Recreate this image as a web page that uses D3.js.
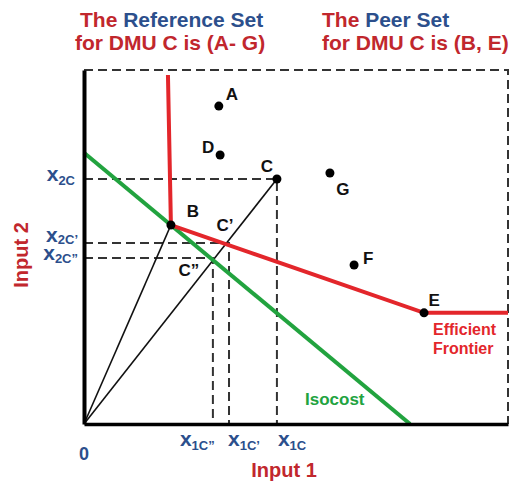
<!DOCTYPE html>
<html>
<head>
<meta charset="utf-8">
<script src="https://cdn.jsdelivr.net/npm/d3@7"></script>
<style>
body { margin: 0; background: #fff; }
text { font-family: "Liberation Sans", Arial, sans-serif; font-weight: bold; }
</style>
</head>
<body>
<div id="chart"></div>
<script>
var width = 514;
var height = 484;
var margin = {top: 70, right: 6, bottom: 60, left: 84};
var w = width - margin.left - margin.right;
var h = height - margin.top - margin.bottom;

// DMUs: input 1, input 2
var names = ['A', 'D', 'C', 'G', 'B', 'F', 'E'];
var input1 = [3.18, 3.21, 4.55, 5.8, 2.05, 6.37, 8.02];
var input2 = [8.98, 7.6, 6.92, 7.09, 5.62, 4.49, 3.14];

// projections of C
var projNames = ['C’', 'C”'];
var proj1 = [3.42, 3.04];
var proj2 = [5.11, 4.69];

// frontier and isocost
var frontier1 = [1.98, 2.05, 8.02, 10];
var frontier2 = [9.86, 5.62, 3.14, 3.14];
var isocost1 = [0, 7.69];
var isocost2 = [7.66, 0];

var red = '#e3262b', darkRed = '#c1272d', blue = '#2c4f8c', green = '#22a33f';

var x = d3.scaleLinear().domain([0, 10]).range([0, w]);
var y = d3.scaleLinear().domain([0, 10]).range([h, 0]);

var svg = d3.select('#chart').append('svg')
  .attr('width', width)
  .attr('height', height)
  .append('g')
  .attr('transform', 'translate(' + margin.left + ',' + margin.top + ')');

var pt = {};
names.forEach(function(n, i) { pt[n] = [input1[i], input2[i]]; });
projNames.forEach(function(n, i) { pt[n] = [proj1[i], proj2[i]]; });

var line = d3.line().x(function(d) { return x(d[0]); }).y(function(d) { return y(d[1]); });

function dashed(pts) {
  svg.append('path').attr('d', line(pts))
    .attr('fill', 'none').attr('stroke', '#333').attr('stroke-width', 2)
    .attr('stroke-dasharray', '9,5');
}

// box
dashed([[0, 10], [10, 10], [10, 0]]);

// guide lines for C, C', C''
['C', 'C’', 'C”'].forEach(function(n) {
  dashed([[0, pt[n][1]], [pt[n][0], pt[n][1]], [pt[n][0], 0]]);
});

// rays from origin
svg.append('path').attr('d', line([[0, 0], pt['C']]))
  .attr('fill', 'none').attr('stroke', '#111').attr('stroke-width', 1.6);
svg.append('path').attr('d', line([[0, 0], pt['B']]))
  .attr('fill', 'none').attr('stroke', '#111').attr('stroke-width', 1.6);

// isocost
svg.append('path').attr('d', line(isocost1.map(function(v, i) { return [v, isocost2[i]]; })))
  .attr('fill', 'none').attr('stroke', green).attr('stroke-width', 4);

// efficient frontier
svg.append('path').attr('d', line(frontier1.map(function(v, i) { return [v, frontier2[i]]; })))
  .attr('fill', 'none').attr('stroke', red).attr('stroke-width', 4);

// axes
svg.append('g').attr('class', 'y axis')
  .call(d3.axisLeft(y).ticks(0).tickSizeOuter(0))
  .select('.domain').attr('stroke', '#000').attr('stroke-width', 4);
svg.append('g').attr('class', 'x axis')
  .attr('transform', 'translate(0,' + h + ')')
  .call(d3.axisBottom(x).ticks(0).tickSizeOuter(0))
  .select('.domain').attr('stroke', '#000').attr('stroke-width', 3.5);

// points
svg.selectAll('.dot')
  .data(names)
  .enter().append('circle')
  .attr('class', 'dot')
  .attr('cx', function(d) { return x(pt[d][0]); })
  .attr('cy', function(d) { return y(pt[d][1]); })
  .attr('r', 4.5)
  .attr('fill', '#000');

// point labels
var labelOff = {A: [13, -12], D: [-12, -8], C: [-10, -13], G: [13, 16], B: [22, -14], F: [14, -7], E: [10, -13], 'C’': [-4, -18], 'C”': [-24, 12]};
names.concat(projNames).forEach(function(n) {
  svg.append('text')
    .attr('x', x(pt[n][0]) + labelOff[n][0])
    .attr('y', y(pt[n][1]) + labelOff[n][1] + 6)
    .attr('text-anchor', 'middle')
    .attr('font-size', 17)
    .attr('fill', '#111')
    .text(n);
});

// axis value labels
function subLabel(xPos, yPos, sub, anchor, dy) {
  var t = svg.append('text')
    .attr('x', xPos).attr('y', yPos)
    .attr('text-anchor', anchor)
    .attr('fill', blue);
  t.append('tspan').attr('font-size', 21).text('x');
  t.append('tspan').attr('font-size', 13).attr('dy', dy || 4).text(sub);
}
subLabel(-9, y(pt['C'][1]) + 2, '2C', 'end');
subLabel(-6, y(pt['C’'][1]) - 1, '2C’', 'end', 2);
subLabel(-6, y(pt['C”'][1]) + 2, '2C”', 'end', 3);
subLabel(x(pt['C”'][0]) - 33, h + 22, '1C”', 'start');
subLabel(x(pt['C’'][0]) - 1, h + 22, '1C’', 'start');
subLabel(x(pt['C'][0]) + 1, h + 22, '1C', 'start');

svg.append('text').attr('x', -5).attr('y', h + 36)
  .attr('font-size', 18).attr('fill', blue).text('0');

// axis titles
svg.append('text').attr('x', 200).attr('y', h + 53)
  .attr('text-anchor', 'middle').attr('font-size', 20).attr('fill', darkRed).text('Input 1');
svg.append('text')
  .attr('transform', 'translate(-56,185) rotate(-90)')
  .attr('text-anchor', 'middle').attr('font-size', 20).attr('fill', darkRed).text('Input 2');

// series annotations
svg.append('text').attr('x', 349).attr('y', 265)
  .attr('font-size', 16).attr('fill', red).text('Efficient');
svg.append('text').attr('x', 349).attr('y', 284)
  .attr('font-size', 16).attr('fill', red).text('Frontier');
svg.append('text').attr('x', 221).attr('y', 335)
  .attr('font-size', 17).attr('fill', green).text('Isocost');

// titles
function title(xPos, yPos, parts) {
  var t = svg.append('text').attr('x', xPos).attr('y', yPos).attr('font-size', 21);
  parts.forEach(function(p) { t.append('tspan').attr('fill', p[1]).text(p[0]); });
}
title(-4, -43, [['The ', darkRed], ['Reference Set', blue]]);
title(-9, -20, [['for DMU C is (A- G)', darkRed]]);
title(238, -43, [['The ', darkRed], ['Peer Set', blue]]);
title(238, -20, [['for DMU C is (B, E)', darkRed]]);
</script>
</body>
</html>
